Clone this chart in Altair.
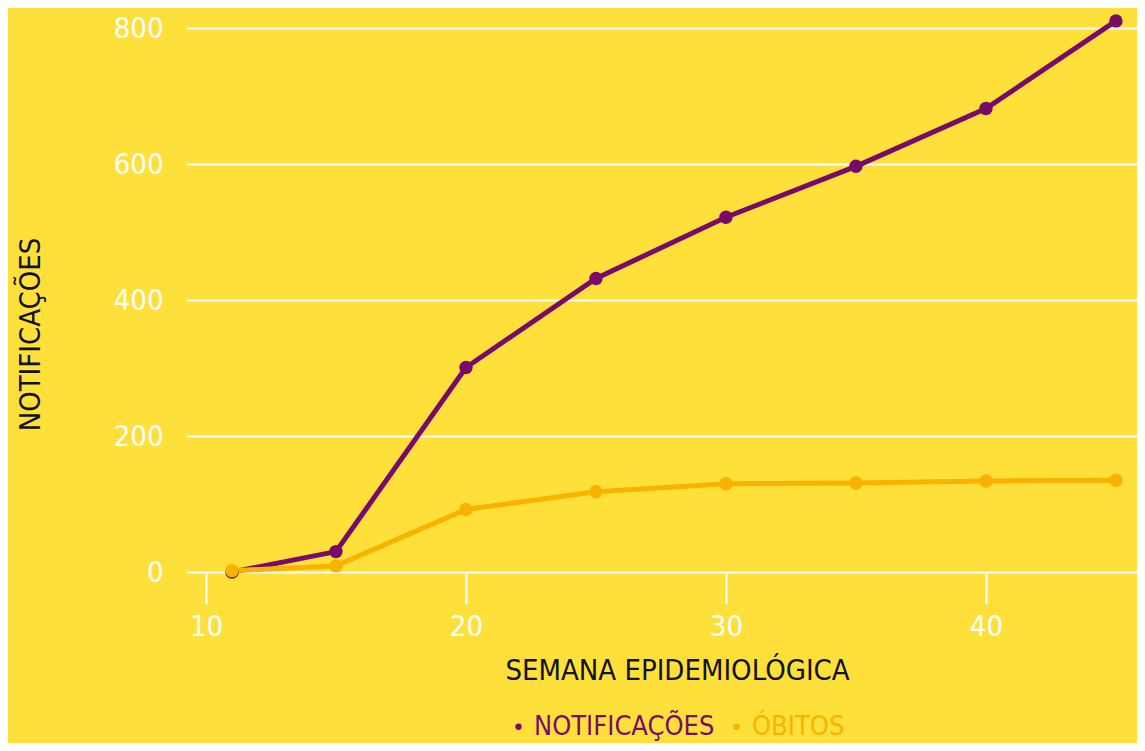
import altair as alt
import pandas as pd

semanas = [11, 15, 20, 25, 30, 35, 40, 45]
notificacoes = [0, 30, 301, 432, 522, 597, 682, 811]
obitos = [2, 9, 92, 118, 130, 131, 134, 135]
series = ["NOTIFICAÇÕES", "ÓBITOS"]
cores = ["#7a0a6a", "#f9b200"]
x_ticks = [10, 20, 30, 40]
y_ticks = [0, 200, 400, 600, 800]

rows = []
for s, n, o in zip(semanas, notificacoes, obitos):
    rows.append({"semana": s, "valor": n, "serie": series[0], "ordem": 0})
    rows.append({"semana": s, "valor": o, "serie": series[1], "ordem": 1})
df = pd.DataFrame(rows)

FONT = "DejaVu Sans Condensed, sans-serif"
BG = "#ffe03a"

x_enc = alt.X(
    "semana:Q",
    scale=alt.Scale(domain=[9.27, 45.81], nice=False, zero=False),
    axis=alt.Axis(
        values=x_ticks,
        title="SEMANA EPIDEMIOLÓGICA",
        grid=False,
        domain=False,
        ticks=True,
        tickSize=32,
        tickWidth=2,
        tickColor="white",
        labelColor="white",
        labelFont=FONT,
        labelFontSize=29,
        labelPadding=8,
        titleFont=FONT,
        titleFontSize=29,
        titleFontWeight="normal",
        titleColor="#111111",
        titleX=490,
        titleY=98,
        titleAlign="center",
        titleBaseline="middle",
    ),
)
y_enc = alt.Y(
    "valor:Q",
    scale=alt.Scale(domain=[0, 830], nice=False),
    axis=alt.Axis(
        values=y_ticks,
        title="NOTIFICAÇÕES",
        grid=True,
        gridColor="white",
        gridWidth=2,
        gridOpacity=1,
        domain=False,
        ticks=False,
        labelColor="white",
        labelFont=FONT,
        labelFontSize=29,
        labelPadding=24,
        titleFont=FONT,
        titleFontSize=29,
        titleFontWeight="normal",
        titleColor="#111111",
        titleAngle=-90,
        titleX=-157,
        titleY=326,
        titleAlign="center",
        titleBaseline="middle",
    ),
)
color_enc = alt.Color(
    "serie:N",
    scale=alt.Scale(domain=series, range=cores),
    legend=alt.Legend(
        title=None,
        orient="none",
        direction="horizontal",
        legendX=318,
        legendY=705,
        symbolType="circle",
        symbolSize=40,
        symbolStrokeWidth=0,
        labelFont=FONT,
        labelFontSize=27,
        labelLimit=0,
        labelColor=alt.ExprRef("datum.value === 'NOTIFICAÇÕES' ? '#7a0a6a' : '#f9b200'"),
        labelOffset=2,
        columnPadding=8,
        symbolOffset=0,
    ),
)

base = alt.Chart(df).encode(x=x_enc, y=y_enc, color=color_enc)
lines = base.mark_line(strokeWidth=5).encode(order="semana:Q")
points = base.mark_point(filled=True, size=180, opacity=1).encode(order="ordem:Q")

chart = alt.layer(lines, points).properties(
    width=950,
    height=564,
    background=BG,
    padding={"left": 179, "top": 0, "right": 0, "bottom": 171},
    autosize=alt.AutoSizeParams(type="none"),
).configure_view(
    stroke=None,
    fill=BG,
)

chart.save("out.html", embed_options={"renderer": "svg", "actions": False})
